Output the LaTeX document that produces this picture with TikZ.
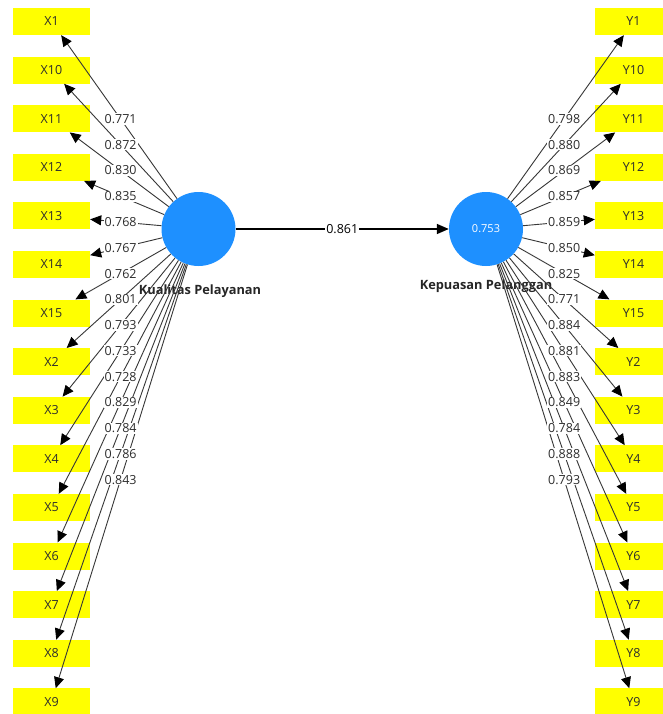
\documentclass[tikz,border=0pt]{standalone}
\usepackage{fontspec}
\setmainfont{Open Sans}
\usetikzlibrary{arrows.meta,calc}
\definecolor{boxyellow}{RGB}{255,255,0}
\definecolor{lvblue}{RGB}{30,144,255}
\definecolor{txtgray}{RGB}{45,45,45}
\definecolor{linegray}{RGB}{55,55,55}
\begin{document}
\begin{tikzpicture}[x=1pt,y=-1pt,
  ind/.style={fill=boxyellow, minimum width=77pt, minimum height=27pt, inner sep=0pt, font=\fontsize{12.5}{12.5}\selectfont, text=txtgray},
  lv/.style={circle, fill=lvblue, minimum size=74pt, inner sep=0pt},
  load/.style={draw=linegray, line width=0.9pt, -{Triangle[length=11pt,width=10pt,fill=black,color=black]}},
  lbl/.style={fill=white, inner sep=1pt, font=\fontsize{12.5}{12.5}\selectfont, text=txtgray},
  lvname/.style={font=\bfseries\fontsize{12.8}{12.8}\selectfont, text=black!85}
]
\useasboundingbox (0,0) rectangle (662,714);
\fill[white] (0,0) rectangle (662,714);

\node[lv] (K) at (198.5,229) {};
\node[lv, text=white, font=\fontsize{11}{11}\selectfont] (P) at (486,229) {0.753};
\node[lvname] (KL) at (200,291) {Kualitas Pelayanan};
\node[lvname] (PL) at (486,286) {Kepuasan Pelanggan};

\foreach \n [count=\i from 0] in {X1,X10,X11,X12,X13,X14,X15,X2,X3,X4,X5,X6,X7,X8,X9} {
  \node[ind] (\n) at (51.5,21.5+48.6*\i) {\n};
}
\foreach \n [count=\i from 0] in {Y1,Y10,Y11,Y12,Y13,Y14,Y15,Y2,Y3,Y4,Y5,Y6,Y7,Y8,Y9} {
  \node[ind] (\n) at (633.5,21.5+48.6*\i) {\n};
}

\foreach \n in {X1,X10,X11,X12,X13,X14,X15,X2,X3,X4,X5,X6,X7,X8,X9} {
  \draw[load] (K) -- (\n);
}
\foreach \n in {Y1,Y10,Y11,Y12,Y13,Y14,Y15,Y2,Y3,Y4,Y5,Y6,Y7,Y8,Y9} {
  \draw[load] (P) -- (\n);
}

\foreach \n/\v in {X1/0.771,X10/0.872,X11/0.830,X12/0.835,X13/0.768,X14/0.767,X15/0.762,X2/0.801,X3/0.793,X4/0.733,X5/0.728,X6/0.829,X7/0.784,X8/0.786,X9/0.843} {
  \node[lbl] at ($(K)!0.53!(\n)$) {\v};
}
\foreach \n/\v in {Y1/0.798,Y10/0.880,Y11/0.869,Y12/0.857,Y13/0.859,Y14/0.850,Y15/0.825,Y2/0.771,Y3/0.884,Y4/0.881,Y5/0.883,Y6/0.849,Y7/0.784,Y8/0.888,Y9/0.793} {
  \node[lbl] at ($(P)!0.53!(\n)$) {\v};
}

\draw[line width=1.6pt, -{Triangle[length=12pt,width=10pt]}] (K) -- node[lbl, text=black] {0.861} (P);
\end{tikzpicture}
\end{document}
